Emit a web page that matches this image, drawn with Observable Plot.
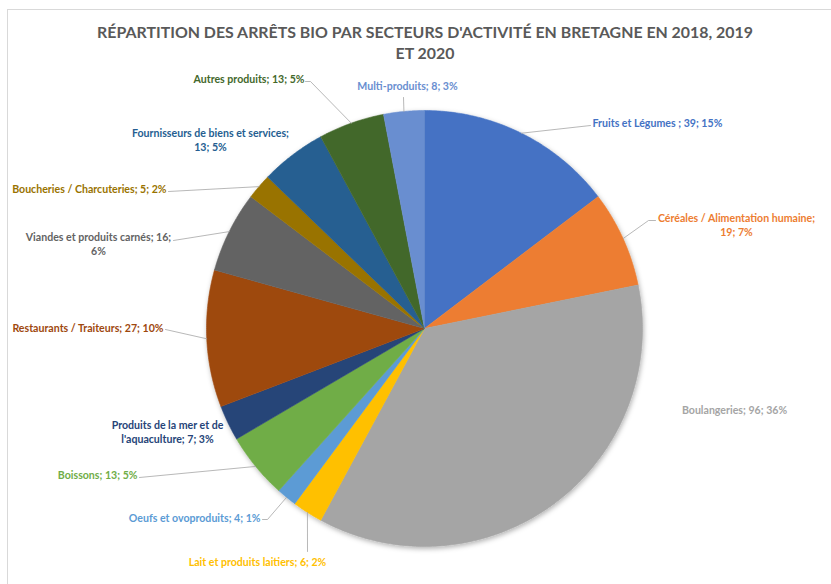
<!DOCTYPE html>
<html><head><meta charset="utf-8">
<script src="https://cdn.jsdelivr.net/npm/d3@7"></script>
<script src="https://cdn.jsdelivr.net/npm/@observablehq/plot@0.6"></script>
<style>
body{margin:0;background:#fff;overflow:hidden;}
#frame{position:absolute;left:7px;top:9px;width:830px;height:580px;border-left:1px solid #d9d9d9;border-top:1px solid #d9d9d9;}
#title{position:absolute;left:0;top:21px;width:850px;text-align:center;font-family:Lato,sans-serif;font-weight:bold;font-size:15.9px;color:#595959;line-height:21px;}
#chart{position:absolute;left:0;top:70px;}
</style></head>
<body>
<div id="frame"></div>
<div id="title">RÉPARTITION DES ARRÊTS BIO PAR SECTEURS D'ACTIVITÉ EN BRETAGNE EN 2018, 2019<br>ET 2020</div>
<div id="chart"></div>
<script>
// ---- data ----
const categories = ["Fruits et Légumes ", "Céréales / Alimentation humaine", "Boulangeries", "Lait et produits laitiers", "Oeufs et ovoproduits", "Boissons", "Produits de la mer et de l'aquaculture", "Restaurants / Traiteurs", "Viandes et produits carnés", "Boucheries / Charcuteries", "Fournisseurs de biens et services", "Autres produits", "Multi-produits"];
const values = [39, 19, 96, 6, 4, 13, 7, 27, 16, 5, 13, 13, 8];
const percents = [15, 7, 36, 2, 1, 5, 3, 10, 6, 2, 5, 5, 3];
const colors = ["#4472C4", "#ED7D31", "#A5A5A5", "#FFC000", "#5B9BD5", "#70AD47", "#264478", "#9E480E", "#636363", "#997300", "#255E91", "#43682B", "#698ED0"];

// ---- layout (page pixels of the label anchors, leader attach points) ----
const CX = 424, CY = 328, R = 218, TOP = 70, W = 831, H = 514;
const labelLayout = [
  {anchor: "start",  at: [592, 122], brk: -1, leader: [[590, 125]]},
  {anchor: "middle", at: [736, 224], brk: 0,  leader: [[648, 220], [655, 220]]},
  {anchor: "middle", at: [734, 409], brk: -1, leader: []},
  {anchor: "middle", at: [257, 561], brk: -1, leader: [[307, 551]]},
  {anchor: "end",    at: [260, 517], brk: -1, leader: [[267, 519], [262, 519]]},
  {anchor: "end",    at: [137, 474], brk: -1, leader: [[139, 477]]},
  {anchor: "middle", at: [167, 431], brk: -1, leader: [], nameBreak: "Produits de la mer et de\nl'aquaculture"},
  {anchor: "end",    at: [163, 327], brk: -1, leader: [[165, 329]]},
  {anchor: "middle", at: [98, 243],  brk: 1,  leader: [[173, 240]]},
  {anchor: "end",    at: [166, 188], brk: -1, leader: [[168, 191]]},
  {anchor: "middle", at: [210, 139], brk: 0,  leader: []},
  {anchor: "end",    at: [304, 78],  brk: -1, leader: [[310, 81], [305, 81]]},
  {anchor: "middle", at: [407, 85],  brk: -1, leader: [[403, 97]]}
];
const toUnit = ([px, py]) => [(px - CX) / R, (CY - py) / R];

// ---- geometry derived from values ----
const arcs = d3.pie().sort(null).value(d => d)(values);
const slicePts = [];
arcs.forEach((a, i) => {
  const cat = categories[i];
  slicePts.push({cat, x: 0, y: 0});
  const n = Math.max(2, Math.ceil((a.endAngle - a.startAngle) / (Math.PI / 360)));
  for (let k = 0; k <= n; k++) {
    const t = a.startAngle + (a.endAngle - a.startAngle) * k / n;
    slicePts.push({cat, x: Math.sin(t), y: Math.cos(t)});
  }
});

const labels = categories.map((c, i) => {
  const L = labelLayout[i];
  const name = L.nameBreak || c;
  const parts = [name, String(values[i]), percents[i] + "%"];
  let text = "";
  parts.forEach((p, j) => {
    if (j === 0) text = p;
    else text += (L.brk === j - 1 ? ";\n" : "; ") + p;
  });
  const [x, y] = toUnit(L.at);
  return {cat: c, text, x, y, anchor: L.anchor};
});

const leaderPts = [];
arcs.forEach((a, i) => {
  const L = labelLayout[i];
  if (!L.leader.length) return;
  const m = (a.startAngle + a.endAngle) / 2;
  leaderPts.push({cat: categories[i], x: Math.sin(m), y: Math.cos(m)});
  L.leader.forEach(p => { const [x, y] = toUnit(p); leaderPts.push({cat: categories[i], x, y}); });
});

const textOpts = anchor => ({
  x: "x", y: "y", text: "text", fill: "cat", textAnchor: anchor,
  fontFamily: "Lato, sans-serif", fontWeight: "bold", fontSize: 10.6, lineHeight: 1.3
});

const plot = Plot.plot({
  width: W, height: H, margin: 0,
  x: {domain: [-CX / R, (W - CX) / R], range: [0, W], axis: null},
  y: {domain: [-(H - (CY - TOP)) / R, (CY - TOP) / R], range: [H, 0], axis: null},
  color: {domain: categories, range: colors},
  style: {background: "transparent", overflow: "visible"},
  marks: [
    Plot.line(slicePts, {x: "x", y: "y", z: "cat", fill: "cat", stroke: "cat", strokeWidth: 0.6, curve: "linear"}),
    Plot.line(leaderPts, {x: "x", y: "y", z: "cat", stroke: "#a6a6a6", strokeWidth: 0.8}),
    Plot.text(labels.filter(d => d.anchor === "start"), textOpts("start")),
    Plot.text(labels.filter(d => d.anchor === "middle"), textOpts("middle")),
    Plot.text(labels.filter(d => d.anchor === "end"), textOpts("end"))
  ]
});
document.getElementById("chart").appendChild(plot);

// subtle drop shadow under the pie, as in the reference
const svg = d3.select(plot);
const defs = svg.insert("defs", ":first-child");
const f = defs.append("filter").attr("id", "pieShadow").attr("x", "-10%").attr("y", "-10%").attr("width", "120%").attr("height", "120%");
f.append("feDropShadow").attr("dx", 1).attr("dy", 2).attr("stdDeviation", 2.5).attr("flood-color", "#000").attr("flood-opacity", 0.3);
svg.select('g[aria-label="line"]').attr("filter", "url(#pieShadow)");
</script>
</body></html>
